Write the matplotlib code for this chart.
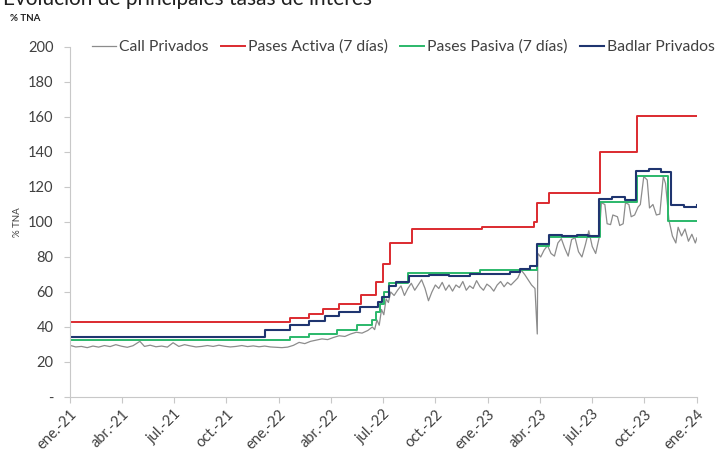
import pandas as pd
import matplotlib
matplotlib.use("Agg")
from matplotlib import pyplot as plt

plt.rcParams['font.family'] = ['Lato', 'DejaVu Sans']

# --- data ---
start = pd.Timestamp('2021-01-01')

call_days = [0, 10, 20, 30, 40, 50, 60, 70, 80, 90, 100, 110, 122, 130, 140, 150, 160,
             170, 180, 190, 200, 210, 220, 230, 240, 250, 260, 270, 280, 290, 300, 310,
             320, 330, 340, 350, 360, 370, 380,
             390, 400, 410, 420, 430, 440, 450, 460, 470, 480, 490, 500, 510, 520, 528,
             532, 536, 540, 544, 548, 552, 556, 560, 566, 572, 578, 584, 590, 596, 602,
             608, 614, 620, 626, 632, 638, 644, 650, 656, 662, 668, 674, 680, 686, 692,
             698, 704, 710, 716, 722, 728, 734, 740, 746, 752, 758, 764, 770, 776, 782,
             788, 794, 800, 806, 812, 816, 817, 822, 828, 834, 840, 846, 852, 858, 864,
             870, 876, 882, 888, 894, 900, 906, 912, 918, 924, 928, 934, 938, 944, 948,
             956, 960, 966, 970, 976, 980, 986, 992, 996, 1002, 1008, 1012, 1018, 1024,
             1030, 1036, 1040, 1046, 1052, 1058, 1062, 1068, 1074, 1080, 1086, 1092, 1095]
call_vals = [29.5, 28.6, 28.9, 28.2, 29.1, 28.5, 29.4, 28.8, 29.9, 29.0, 28.4, 29.3, 31.8,
             28.9, 29.6, 28.7, 29.1, 28.5, 31.0, 28.9, 29.9, 29.2, 28.6, 28.9, 29.4, 28.9,
             29.6, 29.0, 28.6, 28.9, 29.4, 28.8, 29.2, 28.7, 29.1, 28.6, 28.4, 28.2, 28.5,
             29.5, 31.2, 30.5, 31.8, 32.5, 33.2, 32.8, 34.0, 35.0, 34.6, 36.0, 37.0, 36.5,
             38.0, 40.0, 38.5, 44.0, 41.0, 50.0, 47.0, 56.0, 54.0, 60.0, 58.0, 61.0, 63.5,
             58.0, 62.0, 65.0, 61.0, 64.0, 67.0, 62.0, 55.0, 60.0, 64.0, 62.0, 65.5, 61.0,
             64.0, 60.5, 64.0, 62.5, 66.0, 61.0, 63.5, 62.0, 66.5, 63.0, 61.0, 64.5, 63.0,
             60.5, 64.0, 66.0, 63.0, 65.5, 64.0, 66.0, 68.0, 72.5, 70.0, 67.0, 64.0, 62.0,
             36.0, 82.0, 80.0, 84.0, 86.5, 82.0, 80.5, 88.0, 90.5, 85.0, 80.5, 90.0, 91.0,
             83.0, 80.0, 87.0, 95.0, 86.0, 82.0, 91.0, 111.0, 110.0, 99.0, 98.5, 104.0,
             103.0, 98.0, 99.0, 111.0, 110.0, 103.0, 104.0, 108.5, 110.0, 126.0, 124.0,
             108.0, 110.0, 104.0, 104.5, 126.0, 122.0, 101.0, 92.0, 88.0, 97.0, 92.0, 96.0,
             89.0, 93.0, 88.0, 91.0]

activa_dates = ['2021-01-01', '2022-01-21', '2022-02-23', '2022-03-19', '2022-04-16',
                '2022-05-24', '2022-06-19', '2022-07-01', '2022-07-13', '2022-08-21',
                '2022-12-21', '2023-03-22', '2023-03-28', '2023-04-17', '2023-07-15',
                '2023-09-18', '2024-01-01']
activa_vals = [43.0, 45.0, 47.2, 50.0, 53.0, 58.0, 65.5, 75.8, 88.0, 95.8, 97.3, 100.2,
               110.7, 116.5, 140.0, 160.5, 160.5]

pasiva_dates = ['2021-01-01', '2022-01-20', '2022-02-22', '2022-04-12', '2022-05-17',
                '2022-06-12', '2022-06-19', '2022-06-27', '2022-07-03', '2022-07-12',
                '2022-08-15', '2022-12-18', '2023-03-28', '2023-04-17', '2023-07-15',
                '2023-09-18', '2023-11-11', '2024-01-01']
pasiva_vals = [32.5, 34.3, 36.2, 38.5, 41.3, 44.0, 48.5, 53.0, 60.0, 65.0, 70.7, 72.5,
               86.0, 91.6, 111.6, 126.3, 100.6, 100.6]

badlar_dates = ['2021-01-01', '2021-03-10', '2021-06-01', '2021-09-15', '2021-12-07',
                '2022-01-20', '2022-02-22', '2022-03-22', '2022-04-15', '2022-05-22',
                '2022-06-22', '2022-06-30', '2022-07-12', '2022-07-25', '2022-08-16',
                '2022-09-20', '2022-10-25', '2022-11-30', '2023-01-05', '2023-02-08',
                '2023-02-26', '2023-03-15', '2023-03-28', '2023-04-17', '2023-05-10',
                '2023-06-05', '2023-06-25', '2023-07-14', '2023-08-05', '2023-08-28',
                '2023-09-17', '2023-10-10', '2023-10-30', '2023-11-17', '2023-12-10',
                '2024-01-01']
badlar_vals = [34.3, 34.0, 34.4, 34.1, 38.3, 41.0, 43.5, 46.3, 48.8, 51.6, 54.0, 57.0,
               63.5, 65.5, 69.0, 69.6, 69.2, 70.0, 70.3, 71.3, 73.3, 74.8, 87.5, 92.5,
               92.0, 92.8, 92.2, 113.3, 114.2, 112.8, 129.3, 130.0, 128.8, 109.6, 108.8,
               109.5]

tick_labels = ['ene.-21', 'abr.-21', 'jul.-21', 'oct.-21', 'ene.-22', 'abr.-22', 'jul.-22',
               'oct.-22', 'ene.-23', 'abr.-23', 'jul.-23', 'oct.-23', 'ene.-24']

# --- drawing ---
fig = plt.figure(figsize=(7.16, 4.57), dpi=100)
ax = fig.add_axes([0.0978, 0.1313, 0.8757, 0.7659])

call_x = start + pd.to_timedelta(call_days, unit='D')
ax.plot(call_x, call_vals, color='#8c8c8c', lw=0.9, label='Call Privados')
ax.plot(pd.to_datetime(activa_dates), activa_vals, color='#dc2a2f', lw=1.4,
        drawstyle='steps-post', label='Pases Activa (7 días)')
ax.plot(pd.to_datetime(pasiva_dates), pasiva_vals, color='#2bb86a', lw=1.4,
        drawstyle='steps-post', label='Pases Pasiva (7 días)')
ax.plot(pd.to_datetime(badlar_dates), badlar_vals, color='#1f3570', lw=1.5,
        drawstyle='steps-post', label='Badlar Privados')

ax.set_xlim(pd.Timestamp('2021-01-01'), pd.Timestamp('2024-01-01'))
ax.set_ylim(0, 200)
ax.set_yticks(range(0, 201, 20))
ax.set_yticklabels(['-'] + [str(v) for v in range(20, 201, 20)])
ax.set_xticks(pd.date_range('2021-01-01', '2024-01-01', freq='QS'))
ax.set_xticklabels(tick_labels, rotation=45, ha='right', rotation_mode='anchor')

for s in ['top', 'right']:
    ax.spines[s].set_visible(False)
for s in ['left', 'bottom']:
    ax.spines[s].set_color('#c8c8c8')
    ax.spines[s].set_linewidth(0.8)
ax.tick_params(axis='both', colors='#c8c8c8', labelcolor='#404040', labelsize=10.5,
               length=4, width=0.8)
ax.tick_params(axis='y', pad=8)

ax.set_ylabel('% TNA', fontsize=7, color='#404040', labelpad=4)

leg = ax.legend(loc='center', bbox_to_anchor=(0.532, 1.0), ncol=4, frameon=False,
                fontsize=11.3, handlelength=1.5, handletextpad=0.2, columnspacing=0.8,
                borderaxespad=0)
for t in leg.get_texts():
    t.set_color('#404040')

fig.text(0.014, 0.96, '% TNA', fontsize=7, color='#202020', va='center', weight='bold')
fig.text(0.004, 0.988, 'Evolución de principales tasas de interés', fontsize=15,
         color='#202020', va='baseline')

fig.savefig('out.png', dpi=100)
